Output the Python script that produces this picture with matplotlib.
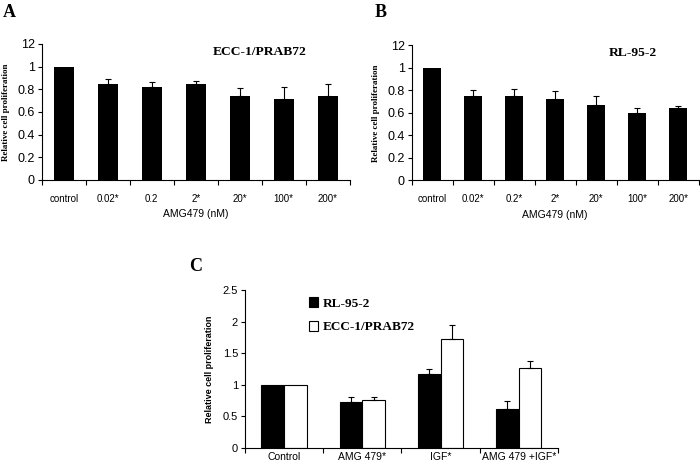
import matplotlib
matplotlib.use('Agg')
import matplotlib.pyplot as plt
import numpy as np

# panel A: ECC-1/PRAB72
conc_a = ['control', '0.02*', '0.2', '2*', '20*', '100*', '200*']
prolif_a = [1.0, 0.845, 0.82, 0.85, 0.745, 0.715, 0.74]
err_a = [0, 0.05, 0.045, 0.025, 0.063, 0.105, 0.105]

# panel B: RL-95-2
conc_b = ['control', '0.02*', '0.2*', '2*', '20*', '100*', '200*']
prolif_b = [1.0, 0.745, 0.745, 0.725, 0.665, 0.595, 0.64]
err_b = [0, 0.055, 0.062, 0.068, 0.08, 0.047, 0.023]

# panel C
treat = ['Control', 'AMG 479*', 'IGF*', 'AMG 479 +IGF*']
rl = [1.0, 0.73, 1.17, 0.62]
rl_err = [0, 0.08, 0.08, 0.13]
ecc = [1.0, 0.76, 1.73, 1.26]
ecc_err = [0, 0.05, 0.22, 0.12]

ab_ticks = [0, 0.2, 0.4, 0.6, 0.8, 1.0, 1.2]
ab_ticklabels = ['0', '0.2', '0.4', '0.6', '0.8', '1', '12']

narrow = ['Liberation Sans Narrow', 'Liberation Sans', 'DejaVu Sans']
serif = ['Liberation Serif', 'DejaVu Serif']
sans = ['Liberation Sans', 'DejaVu Sans']

fig = plt.figure(figsize=(7, 4.67), dpi=100)


def small_panel(rect, labels, vals, errs, title, title_x):
    ax = fig.add_axes(rect)
    x = np.arange(len(labels))
    ax.bar(x, vals, width=0.45, color='black')
    ax.errorbar(x[1:], vals[1:], yerr=[np.zeros(len(errs) - 1), errs[1:]],
                fmt='none', ecolor='black', elinewidth=0.8, capsize=2.5, capthick=0.8)
    ax.set_xlim(-0.5, len(labels) - 0.5)
    ax.set_ylim(0, 1.2)
    ax.set_yticks(ab_ticks)
    ax.set_yticklabels(ab_ticklabels, family=narrow, fontsize=9)
    ax.set_xticks(x)
    ax.set_xticklabels(labels, family=narrow, fontsize=7)
    ax.set_xticks(np.arange(len(labels) + 1) - 0.5, minor=True)
    ax.tick_params(axis='x', which='major', length=0, pad=10)
    ax.tick_params(axis='x', which='minor', length=3.5, width=0.8, direction='out')
    ax.tick_params(axis='y', length=3, width=0.8, pad=2)
    for s in ['top', 'right']:
        ax.spines[s].set_visible(False)
    for s in ['left', 'bottom']:
        ax.spines[s].set_linewidth(0.8)
    ax.set_xlabel('AMG479 (nM)', family=narrow, fontsize=7.5, labelpad=4)
    ax.text(title_x, 1.13, title, family=serif, fontweight='bold', fontsize=9.7,
            ha='center', va='center', transform=ax.transData)
    ax.set_ylabel('Relative cell proliferation', family=serif, fontweight='bold',
                  fontsize=6.5, labelpad=5)
    return ax


axa = small_panel([0.0596, 0.6146, 0.44, 0.2912], conc_a, prolif_a, err_a,
                  'ECC-1/PRAB72', 4.45)
axb = small_panel([0.588, 0.6135, 0.41, 0.290], conc_b, prolif_b, err_b,
                  'RL-95-2', 4.9)

# panel C
axc = fig.add_axes([0.35, 0.0407, 0.447, 0.338])
xc = np.arange(len(treat))
w = 0.29
axc.bar(xc - w / 2, rl, width=w, color='black', edgecolor='black', linewidth=0.8,
        label='RL-95-2')
axc.bar(xc + w / 2, ecc, width=w, color='white', edgecolor='black', linewidth=0.8,
        label='ECC-1/PRAB72')
axc.errorbar(xc[1:] - w / 2, rl[1:], yerr=[np.zeros(3), rl_err[1:]], fmt='none',
             ecolor='black', elinewidth=0.8, capsize=2.5, capthick=0.8)
axc.errorbar(xc[1:] + w / 2, ecc[1:], yerr=[np.zeros(3), ecc_err[1:]], fmt='none',
             ecolor='black', elinewidth=0.8, capsize=2.5, capthick=0.8)
axc.set_xlim(-0.5, len(treat) - 0.5)
axc.set_ylim(0, 2.5)
axc.set_yticks([0, 0.5, 1, 1.5, 2, 2.5])
axc.set_yticklabels(['0', '0.5', '1', '1.5', '2', '2.5'], family=sans, fontsize=8)
axc.set_xticks(xc)
axc.set_xticklabels(treat, family=sans, fontsize=7.5)
axc.set_xticks(np.arange(len(treat) + 1) - 0.5, minor=True)
axc.tick_params(axis='x', which='major', length=0, pad=3)
axc.tick_params(axis='x', which='minor', length=3.5, width=0.8, direction='out')
axc.tick_params(axis='y', length=3, width=0.8, pad=2)
for s in ['top', 'right']:
    axc.spines[s].set_visible(False)
for s in ['left', 'bottom']:
    axc.spines[s].set_linewidth(0.8)
axc.set_ylabel('Relative cell proliferation', family=sans, fontweight='bold',
               fontsize=6.5, labelpad=6)
axc.legend(loc='upper left', bbox_to_anchor=(0.165, 1.03), frameon=False,
           prop={'family': serif, 'weight': 'bold', 'size': 9.5},
           handlelength=0.75, handleheight=0.75, handletextpad=0.3, labelspacing=0.85)

# panel letters
fig.text(0.004, 0.992, 'A', family=serif, fontweight='bold', fontsize=13, va='top')
fig.text(0.535, 0.992, 'B', family=serif, fontweight='bold', fontsize=13, va='top')
fig.text(0.27, 0.448, 'C', family=serif, fontweight='bold', fontsize=13, va='top')

fig.savefig('out.png', dpi=100)
